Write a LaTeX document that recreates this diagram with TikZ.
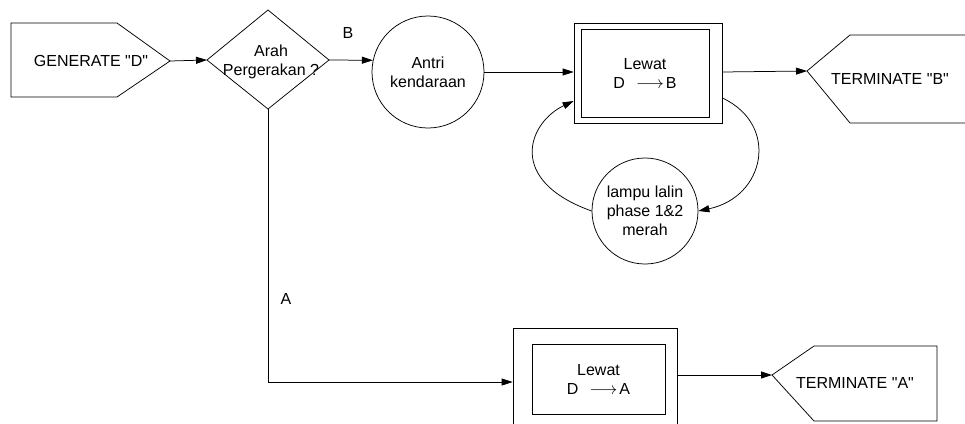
\documentclass[tikz,border=0pt]{standalone}
\usepackage{fontspec}
\setmainfont{Liberation Sans}[Ligatures=TeXOff]
\usetikzlibrary{arrows.meta}
\newcommand{\qd}{\symbol{34}}
\newcommand{\darrow}{\hspace{11pt}$\longrightarrow$\hspace{2pt}}
\begin{document}
\begin{tikzpicture}[x=1pt,y=-1pt,line width=0.75pt,
  txt/.style={font=\fontsize{16}{19}\selectfont, align=center, inner sep=0pt},
  arr/.style={-{Triangle[length=11pt,width=7pt]}},
  circ/.style={circle, draw, inner sep=0pt, txt},
  boxo/.style={rectangle, draw, inner sep=0pt},
  boxi/.style={rectangle, draw, inner sep=0pt, txt, minimum width=128pt, minimum height=88pt}]
\useasboundingbox (0,0) rectangle (965,423);

% GENERATE "D"
\coordinate (gentip) at (170,61);
\draw (11,23) -- (117,23) -- (gentip) -- (117,97) -- (11,97) -- cycle;
\node[txt] (gen) at (91,61) {GENERATE \qd D\qd};

% decision diamond
\coordinate (diaW) at (207,60);
\coordinate (diaN) at (268,10);
\coordinate (diaE) at (329,60);
\coordinate (diaS) at (268,109);
\draw (diaW) -- (diaN) -- (diaE) -- (diaS) -- cycle;
\node[txt] (dia) at (271,62) {Arah\\Pergerakan ?};

% queue circle
\node[circ, minimum size=112pt] (antri) at (428,72) {Antri\\kendaraan};

% box D->B
\node[boxo, minimum width=148pt, minimum height=100pt] (boxB) at (648,73) {};
\node[boxi] (boxBin) at (645,73) {Lewat\\D\darrow B};

% TERMINATE "B"
\coordinate (termBtip) at (807,71);
\draw (termBtip) -- (850,35) -- (975,35) -- (975,123) -- (850,123) -- cycle;
\node[txt] (termB) at (890,79) {TERMINATE \qd B\qd};

% traffic light circle
\node[circ, minimum size=106pt] (lampu) at (645,211) {lampu lalin\\phase 1\&2\\merah};

% box D->A
\node[boxo, minimum width=164pt, minimum height=102pt] (boxA) at (595,379) {};
\node[boxi, minimum width=133pt, minimum height=70pt] (boxAin) at (598.5,379) {Lewat\\D\darrow A};

% TERMINATE "A"
\coordinate (termAtip) at (772,375);
\draw (termAtip) -- (814,346) -- (937,346) -- (937,421) -- (814,421) -- cycle;
\node[txt] (termA) at (855,383) {TERMINATE \qd A\qd};

% labels
\node[txt] (labB) at (348,33) {B};
\node[txt] (labA) at (286,299) {A};

% connectors
\draw[arr] (gentip) -- (diaW);
\draw[arr] (diaE) -- (antri.168.7);
\draw[arr] (antri.east) -- (antri.east -| boxB.west);
\draw[arr] ([yshift=1pt]boxB.east) -- (termBtip);
\draw[arr] ([yshift=-25pt]boxB.east) .. controls (780,125) and (765,197) .. (lampu.east);
\draw[arr] (lampu.west) .. controls (505,180) and (529,122) .. ([yshift=-28pt]boxB.west);
\draw[arr] (diaS) |- ([yshift=-3pt]boxA.west);
\draw[arr] ([yshift=4pt]boxA.east) -- (termAtip);
\end{tikzpicture}
\end{document}
